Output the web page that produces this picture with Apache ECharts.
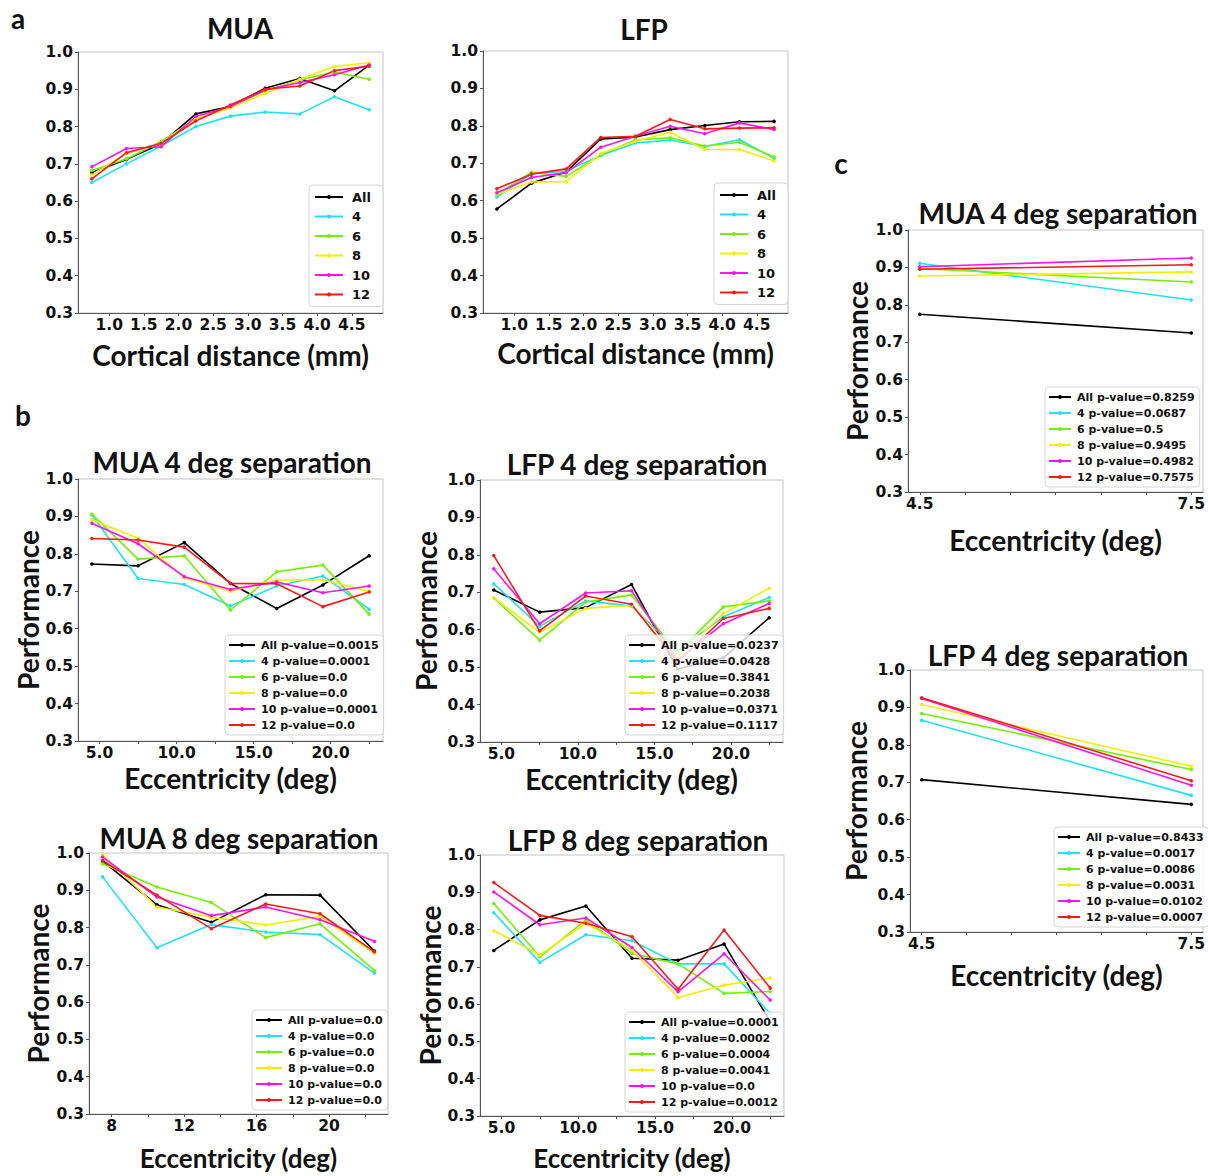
<!DOCTYPE html>
<html><head><meta charset="utf-8">
<script src="https://cdn.jsdelivr.net/npm/echarts@6/dist/echarts.min.js"></script>
<style>html,body{margin:0;padding:0;background:#fff}#c{width:1208px;height:1176px}</style>
</head><body><div id="c"></div>
<script>
// ---------- data ----------
const groups = ['All', '4', '6', '8', '10', '12'];
const groupColors = ['#000000', '#1fe3f5', '#72f200', '#f4ee00', '#ff14ee', '#ff1a1a'];

const distX = [0.75, 1.25, 1.75, 2.25, 2.75, 3.25, 3.75, 4.25, 4.75];
const distTicks = [1.0, 1.5, 2.0, 2.5, 3.0, 3.5, 4.0, 4.5];
const ecc4X = [4.5, 7.5, 10.5, 13.5, 16.5, 19.5, 22.5];
const ecc4Ticks = [5, 7.5, 10, 12.5, 15, 17.5, 20, 22.5];
const ecc4Labels = [5, 10, 15, 20];
const ecc8X = [7.5, 10.5, 13.5, 16.5, 19.5, 22.5];
const ecc8Ticks = [8, 10, 12, 14, 16, 18, 20, 22];
const ecc8Labels = [8, 12, 16, 20];
const eccCX = [4.5, 7.5];
const eccCTicks = [4.5, 5.0, 5.5, 6.0, 6.5, 7.0, 7.5];
const eccCLabels = [4.5, 7.5];
const perfTicks = [0.3, 0.4, 0.5, 0.6, 0.7, 0.8, 0.9, 1.0];

// panel a: performance vs cortical distance (rows: All, 4, 6, 8, 10, 12)
const aMUA = [
  [0.677, 0.712, 0.754, 0.834, 0.854, 0.903, 0.929, 0.896, 0.965],
  [0.650, 0.700, 0.748, 0.800, 0.828, 0.839, 0.834, 0.880, 0.845],
  [0.682, 0.713, 0.760, 0.820, 0.854, 0.896, 0.925, 0.946, 0.927],
  [0.670, 0.728, 0.754, 0.820, 0.850, 0.889, 0.927, 0.961, 0.971],
  [0.692, 0.741, 0.746, 0.827, 0.854, 0.898, 0.918, 0.939, 0.965],
  [0.660, 0.730, 0.755, 0.815, 0.858, 0.900, 0.909, 0.950, 0.962]
];
const aLFP = [
  [0.578, 0.647, 0.677, 0.765, 0.770, 0.790, 0.801, 0.811, 0.812],
  [0.610, 0.672, 0.679, 0.721, 0.754, 0.762, 0.745, 0.763, 0.713],
  [0.616, 0.676, 0.665, 0.722, 0.763, 0.768, 0.746, 0.756, 0.717],
  [0.617, 0.650, 0.651, 0.726, 0.759, 0.783, 0.737, 0.737, 0.706],
  [0.621, 0.662, 0.675, 0.743, 0.772, 0.799, 0.779, 0.808, 0.790],
  [0.632, 0.671, 0.685, 0.769, 0.772, 0.817, 0.792, 0.794, 0.795]
];
// panel b: performance vs eccentricity
const bMUA4 = [
  [0.773, 0.768, 0.830, 0.721, 0.654, 0.717, 0.795],
  [0.904, 0.734, 0.718, 0.661, 0.714, 0.741, 0.652],
  [0.906, 0.786, 0.795, 0.650, 0.752, 0.770, 0.639],
  [0.891, 0.842, 0.736, 0.700, 0.730, 0.730, 0.700],
  [0.882, 0.827, 0.739, 0.705, 0.725, 0.696, 0.714],
  [0.841, 0.837, 0.818, 0.721, 0.720, 0.659, 0.698]
];
const bLFP4 = [
  [0.706, 0.647, 0.659, 0.721, 0.495, 0.525, 0.632],
  [0.723, 0.609, 0.677, 0.663, 0.545, 0.634, 0.686],
  [0.685, 0.572, 0.674, 0.693, 0.538, 0.661, 0.677],
  [0.685, 0.593, 0.657, 0.665, 0.527, 0.643, 0.711],
  [0.763, 0.616, 0.698, 0.704, 0.518, 0.616, 0.670],
  [0.798, 0.597, 0.690, 0.668, 0.514, 0.630, 0.657]
];
const bMUA8 = [
  [0.978, 0.861, 0.814, 0.888, 0.887, 0.737],
  [0.936, 0.746, 0.808, 0.788, 0.781, 0.678],
  [0.971, 0.909, 0.867, 0.773, 0.810, 0.685],
  [0.996, 0.855, 0.828, 0.807, 0.830, 0.731],
  [0.989, 0.882, 0.832, 0.855, 0.821, 0.763],
  [0.980, 0.887, 0.797, 0.863, 0.837, 0.735]
];
const bLFP8 = [
  [0.744, 0.826, 0.863, 0.723, 0.718, 0.761, 0.553],
  [0.845, 0.712, 0.786, 0.770, 0.708, 0.708, 0.575],
  [0.870, 0.727, 0.826, 0.736, 0.708, 0.629, 0.634],
  [0.797, 0.732, 0.817, 0.745, 0.618, 0.651, 0.670],
  [0.901, 0.813, 0.831, 0.752, 0.633, 0.735, 0.611],
  [0.926, 0.838, 0.817, 0.781, 0.640, 0.799, 0.643]
];
// panel c
const cMUA4 = [
  [0.775, 0.725],
  [0.911, 0.813],
  [0.897, 0.861],
  [0.877, 0.888],
  [0.902, 0.925],
  [0.895, 0.907]
];
const cLFP4 = [
  [0.707, 0.641],
  [0.866, 0.665],
  [0.884, 0.734],
  [0.908, 0.743],
  [0.924, 0.692],
  [0.926, 0.704]
];
// p-values shown in legends
const pMUA4 = ['0.0015', '0.0001', '0.0', '0.0', '0.0001', '0.0'];
const pLFP4 = ['0.0237', '0.0428', '0.3841', '0.2038', '0.0371', '0.1117'];
const pMUA8 = ['0.0', '0.0', '0.0', '0.0', '0.0', '0.0'];
const pLFP8 = ['0.0001', '0.0002', '0.0004', '0.0041', '0.0', '0.0012'];
const pcMUA = ['0.8259', '0.0687', '0.5', '0.9495', '0.4982', '0.7575'];
const pcLFP = ['0.8433', '0.0017', '0.0086', '0.0031', '0.0102', '0.0007'];

// ---------- layout ----------
const withP = p => groups.map((g, i) => g + ' p-value=' + p[i]);
const panels = [
  { grid: {left: 78, top: 52, width: 305, height: 261}, xs: distX, ys: aMUA, xmin: 0.55, xmax: 4.95,
    ticks: distTicks, labels: distTicks, dec: 1, names: groups,
    title: 'MUA', tx: 240, ty: 28, xname: 'Cortical distance (mm)', xgap: 28, yname: null,
    leg: {left: 309, top: 185, big: true} },
  { grid: {left: 483, top: 51, width: 305, height: 262}, xs: distX, ys: aLFP, xmin: 0.55, xmax: 4.95,
    ticks: distTicks, labels: distTicks, dec: 1, names: groups,
    title: 'LFP', tx: 644, ty: 29, xname: 'Cortical distance (mm)', xgap: 26, yname: null,
    leg: {left: 714, top: 183, big: true} },
  { grid: {left: 78, top: 479, width: 305, height: 262}, xs: ecc4X, ys: bMUA4, xmin: 3.6, xmax: 23.4,
    ticks: ecc4Ticks, labels: ecc4Labels, dec: 1, names: withP(pMUA4),
    title: 'MUA 4 deg separation', tx: 232, ty: 462, xname: 'Eccentricity (deg)', xgap: 23, yname: 'Performance', ygap: 33,
    leg: {left: 225, top: 635} },
  { grid: {left: 480, top: 480, width: 303, height: 262}, xs: ecc4X, ys: bLFP4, xmin: 3.6, xmax: 23.4,
    ticks: ecc4Ticks, labels: ecc4Labels, dec: 1, names: withP(pLFP4),
    title: 'LFP 4 deg separation', tx: 637, ty: 464, xname: 'Eccentricity (deg)', xgap: 23, yname: 'Performance', ygap: 40,
    leg: {left: 625, top: 635} },
  { grid: {left: 89, top: 853, width: 299, height: 261}, xs: ecc8X, ys: bMUA8, xmin: 6.75, xmax: 23.25,
    ticks: ecc8Ticks, labels: ecc8Labels, dec: 0, names: withP(pMUA8),
    title: 'MUA 8 deg separation', tx: 239, ty: 838, xname: 'Eccentricity (deg)', xgap: 31, nameSize: 26, yname: 'Performance', ygap: 37,
    leg: {left: 252, top: 1010} },
  { grid: {left: 480, top: 855, width: 304, height: 261}, xs: ecc4X, ys: bLFP8, xmin: 3.6, xmax: 23.4,
    ticks: ecc4Ticks, labels: ecc4Labels, dec: 1, names: withP(pLFP8),
    title: 'LFP 8 deg separation', tx: 638, ty: 840, xname: 'Eccentricity (deg)', xgap: 29, nameSize: 26, yname: 'Performance', ygap: 33,
    leg: {left: 625, top: 1012} },
  { grid: {left: 908, top: 230, width: 304, height: 262}, xs: eccCX, ys: cMUA4, xmin: 4.37, xmax: 7.63,
    ticks: eccCTicks, labels: eccCLabels, dec: 1, names: withP(pcMUA),
    title: 'MUA 4 deg separation', tx: 1058, ty: 213, xname: 'Eccentricity (deg)', xgap: 34, yname: 'Performance', ygap: 37,
    leg: {left: 1045, top: 387, iw: 22} },
  { grid: {left: 910, top: 670, width: 302, height: 262}, xs: eccCX, ys: cLFP4, xmin: 4.37, xmax: 7.63,
    ticks: eccCTicks, labels: eccCLabels, dec: 1, names: withP(pcLFP),
    title: 'LFP 4 deg separation', tx: 1058, ty: 655, xname: 'Eccentricity (deg)', xgap: 29, yname: 'Performance', ygap: 40,
    leg: {left: 1054, top: 827, iw: 22} }
];

const tickFont = {fontFamily: 'DejaVu Sans', fontWeight: 'bold', fontSize: 15.5, lineHeight: 15, color: '#111'};
const bigFont = (s) => ({fontFamily: 'Lato', fontWeight: 'bold', fontSize: s, lineHeight: s, color: '#111'});

const grids = [], xAxes = [], yAxes = [], series = [], legends = [], graphics = [];
panels.forEach((p, k) => {
  grids.push(Object.assign({show: true, borderColor: '#c4c4c4', borderWidth: 1, containLabel: false}, p.grid));
  xAxes.push({
    type: 'value', gridIndex: k, min: p.xmin, max: p.xmax,
    name: p.xname, nameLocation: 'middle', nameGap: p.xgap, nameTextStyle: bigFont(p.nameSize || 28),
    axisLine: {show: true, onZero: false, lineStyle: {color: '#555', width: 1}},
    axisTick: {show: true, length: 3, lineStyle: {color: '#555'}, customValues: p.ticks},
    axisLabel: Object.assign({margin: 4, customValues: p.labels, formatter: v => Number(v).toFixed(p.dec)}, tickFont),
    splitLine: {show: false}
  });
  yAxes.push({
    type: 'value', gridIndex: k, min: 0.3, max: 1.0,
    name: p.yname || '', nameLocation: 'middle', nameGap: p.ygap || 0, nameTextStyle: bigFont(28),
    axisLine: {show: true, lineStyle: {color: '#555', width: 1}},
    axisTick: {show: true, length: 3, lineStyle: {color: '#555'}, customValues: perfTicks},
    axisLabel: Object.assign({margin: 5, customValues: perfTicks, formatter: v => Number(v).toFixed(1)}, tickFont),
    splitLine: {show: false}
  });
  p.ys.forEach((row, i) => {
    series.push({
      type: 'line', name: p.names[i], xAxisIndex: k, yAxisIndex: k,
      data: p.xs.map((x, j) => [x, row[j]]),
      symbol: 'circle', symbolSize: 3.5, showSymbol: true,
      lineStyle: {width: 1.6, color: groupColors[i]},
      itemStyle: {color: groupColors[i]},
      emphasis: {disabled: true}, animation: false
    });
  });
  const big = !!p.leg.big;
  legends.push({
    orient: 'vertical', left: p.leg.left, top: p.leg.top,
    data: p.names.map(n => ({name: n})),
    itemWidth: big ? 28 : (p.leg.iw || 26), itemHeight: 5,
    itemGap: big ? 5.5 : 4,
    padding: big ? [5, 12, 5, 5] : [4, 5, 4, 3],
    backgroundColor: 'rgba(255,255,255,0.8)', borderColor: '#d6d6d6', borderWidth: 1, borderRadius: 4,
    selectedMode: false,
    textStyle: {fontFamily: 'DejaVu Sans', fontWeight: 'bold', fontSize: big ? 13 : 11,
                lineHeight: big ? 14 : 12, color: '#111', padding: [0, 0, 0, big ? 4 : 1]}
  });
  graphics.push({
    type: 'text', x: p.tx, y: p.ty,
    style: {text: p.title, font: 'bold 28px Lato', fill: '#111', textAlign: 'center', textVerticalAlign: 'middle'}
  });
});
[['a', 18, 18], ['b', 23, 415], ['c', 841, 163]].forEach(([t, x, y]) => {
  graphics.push({type: 'text', x: x, y: y,
    style: {text: t, font: 'bold 28px Lato', fill: '#111', textAlign: 'center', textVerticalAlign: 'middle'}});
});

const chart = echarts.init(document.getElementById('c'), null, {renderer: 'svg', width: 1208, height: 1176});
chart.setOption({
  backgroundColor: '#fff', animation: false,
  grid: grids, xAxis: xAxes, yAxis: yAxes, series: series, legend: legends, graphic: graphics
});
</script></body></html>
